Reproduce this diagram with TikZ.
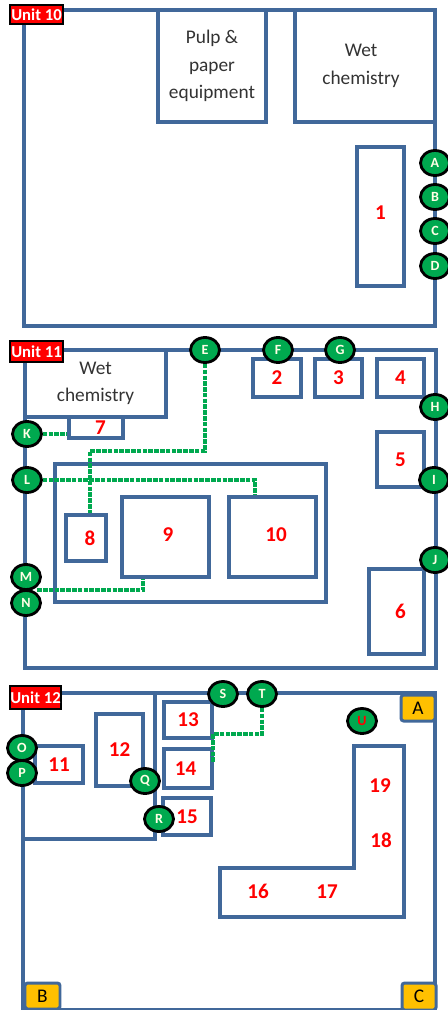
\documentclass[tikz,border=0pt]{standalone}
\usepackage{fontspec}
\setmainfont{Carlito}
\usetikzlibrary{shapes.geometric}
\definecolor{wallblue}{HTML}{41689A}
\definecolor{portgreen}{HTML}{00A94F}
\definecolor{tagorange}{HTML}{FFC000}

\begin{document}
\begin{tikzpicture}[x=0.02cm, y=-0.02cm, line join=miter]

%---- STYLES ----
\tikzset{
    wall/.style={draw=wallblue, line width=2.1pt},
    room/.style={wall, inner sep=0pt, text=red, font=\bfseries\fontsize{12}{14}\selectfont},
    size/.style 2 args={minimum width=#1*0.02cm, minimum height=#2*0.02cm},
    named/.style={room, text=black!80, align=center, font=\fontsize{11}{15.6}\selectfont},
    unit/.style={draw=black, line width=0.7pt, fill=red, text=white, inner sep=0pt,
        font=\bfseries\fontsize{9.5}{11}\selectfont},
    port/.style={ellipse, draw=black, line width=1.6pt, fill=portgreen, inner sep=0pt,
        minimum width=0.58cm, minimum height=0.5cm, text=white!90!yellow,
        font=\bfseries\fontsize{8}{9}\selectfont},
    tag/.style={draw=wallblue, line width=1.7pt, fill=tagorange, rounded corners=1.5pt,
        inner sep=0pt, font=\fontsize{11}{12}\selectfont},
    link/.style={draw=portgreen, line width=2.1pt, dash pattern=on 2.6pt off 0.7pt},
}

\useasboundingbox (0,0) rectangle (448,1010);
\fill[white] (0,0) rectangle (448,1010);

%---- UNIT 10 ----
\draw[wall] (24,10) rectangle (435,326);
\node[named, size={108}{112}] (pulp) at (212,66) {Pulp \&\\paper\\equipment};
\node[named, size={140}{112}] (wet10) at (365,66) {\hspace*{-0.16cm}Wet\\\hspace*{-0.16cm}chemistry};
\node[room, size={47}{139}] (r1) at (380.5,216.5) {\raisebox{0.16cm}{1}};

%---- UNIT 11 ----
\draw[wall] (25,350) rectangle (436,668);
\node[named, size={141}{67}] (wet11) at (95.5,383.5) {Wet\\chemistry};
\node[room, size={54}{21}] (r7) at (96,427.5) {\hspace{0.18cm}7};
\node[wall, size={271}{138}] (hall) at (190.5,533) {};
\node[room, size={40}{46}] (r8) at (86,538) {\hspace{0.16cm}8};
\node[room, size={87}{80}] (r9) at (165.5,537) {\hspace{0.1cm}\raisebox{0.08cm}{9}};
\node[room, size={87}{80}] (r10) at (272.5,537) {\hspace{0.14cm}\raisebox{0.08cm}{10}};
\node[room, size={48}{38}] (r2) at (277,378) {2};
\node[room, size={47}{38}] (r3) at (338.5,378) {3};
\node[room, size={47}{38}] (r4) at (400.5,378) {4};
\node[room, size={47}{55}] (r5) at (400.5,459.5) {5};
\node[room, size={55}{85}] (r6) at (396.5,611.5) {\hspace{0.16cm}6};

%---- UNIT 12 ----
\draw[wall] (23,693) rectangle (435,1010);
\draw[wall] (155,693) -- (155,839) -- (23,839);
\node[room, size={48}{37}] (r11) at (59,764.5) {11};
\node[room, size={47}{72}] (r12) at (119.5,750) {12};
\node[room, size={48}{36}] (r13) at (188,720) {13};
\node[room, size={48}{39}] (r14) at (188,768.5) {\hspace*{-0.1cm}14};
\node[room, size={48}{37}] (r15) at (187,816.5) {15};

% L shaped bench, labels set by hand
\draw[wall] (354,746) -- (404,746) -- (404,917) -- (220,917) -- (220,868) -- (354,868) -- cycle;
\node[room, draw=none] (r16) at (258,891) {16};
\node[room, draw=none] (r17) at (327,892) {17};
\node[room, draw=none] (r18) at (381,840) {18};
\node[room, draw=none] (r19) at (380,786) {19};

%--- corners of the dotted lines
\coordinate (e1) at (205,451);
\coordinate (e2) at (90,451);
\coordinate (l1) at (255,480);
\coordinate (n1) at (143,590);
\coordinate (t1) at (262,734);
\coordinate (t2) at (213,734);
\coordinate (t3) at (213,763);

%---- PORTS ----
\node[port] (A) at (435,163) {A};
\node[port] (B) at (435,197) {B};
\node[port] (C) at (435,231) {C};
\node[port] (D) at (435,266) {D};
\node[port] (E) at (205,350) {E};
\node[port] (F) at (278,350) {F};
\node[port] (G) at (340,350) {G};
\node[port] (H) at (435,407) {H};
\node[port] (I) at (434,480) {I};
\node[port] (J) at (435,560) {J};
\node[port] (K) at (27,434) {K};
\node[port] (L) at (27,480) {L};
\node[port] (M) at (26,577) {M};
\node[port] (N) at (26,603) {N};
\node[port] (O) at (22,748) {O};
\node[port] (P) at (22,773) {P};
\node[port] (Q) at (145,781) {Q};
\node[port] (R) at (159,819) {R};
\node[port] (S) at (223,694) {S};
\node[port] (T) at (262,694) {T};
\node[port, text=red] (U) at (362,721) {U};

%---- DOTTED LINES ----
\draw[link] (E) -- (e1) -- (e2) -- (e2 |- r8.north);
\draw[link] (L) -- (l1) -- (l1 |- r10.north);
\draw[link] (N.north east |- n1) -- (n1) -- (n1 |- r9.south);
\draw[link] (K) -- (K -| r7.west);
\draw[link] (T) -- (t1) -- (t2) -- (t3);

%---- UNIT TAGS ----
\node[unit, size={53}{19}] (u10) at (36.5,14.5) {Unit 10};
\node[unit, size={53}{21}] (u11) at (36.5,351.5) {Unit 11};
\node[unit, size={51}{23}] (u12) at (35.5,697.5) {Unit 12};

%---- CORNER TAGS ----
\node[tag, size={34}{26}] (tA) at (418,708) {A};
\node[tag, size={35}{26}] (tB) at (42.5,996) {B};
\node[tag, size={34}{27}] (tC) at (419,996.5) {C};

\end{tikzpicture}
\end{document}
